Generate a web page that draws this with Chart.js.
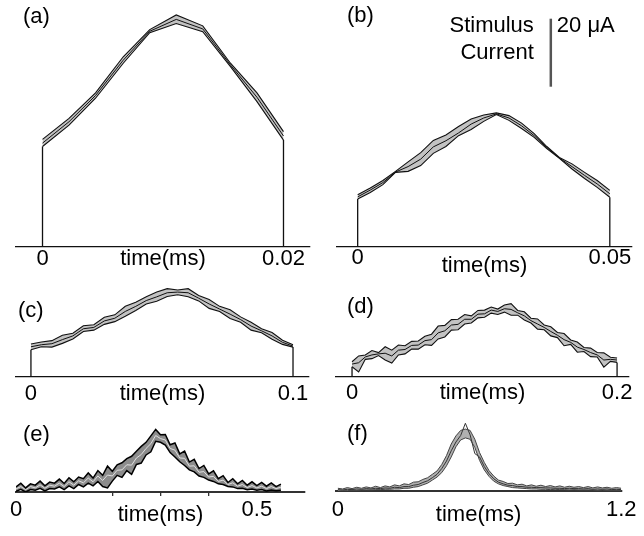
<!DOCTYPE html>
<html><head><meta charset="utf-8">
<script src="https://cdn.jsdelivr.net/npm/chart.js@4/dist/chart.umd.min.js"></script>
<style>
html,body{margin:0;padding:0;background:#fff;}
#wrap{position:relative;width:644px;height:536px;overflow:hidden;background:#fff;}
canvas{position:absolute;left:0;top:0;}
</style></head><body>
<div id="wrap">
<canvas id="ca" width="644" height="536"></canvas>
<canvas id="cb" width="644" height="536"></canvas>
<canvas id="cc" width="644" height="536"></canvas>
<canvas id="cd" width="644" height="536"></canvas>
<canvas id="ce" width="644" height="536"></canvas>
<canvas id="cf" width="644" height="536"></canvas>
</div>
<script>
// ---------- DATA (stimulus current, µA, vs time, ms) ----------
const axisTitle = 'time(ms)';
const panelLabels = ['(a)', '(b)', '(c)', '(d)', '(e)', '(f)'];

// (a) 0.02 ms pulse
const tA = [0,0.0022,0.0044,0.0067,0.0089,0.0111,0.0133,0.0156,0.0178,0.02];
const upperA = [31.5,37.7,45.2,55.8,63.8,68.1,64.9,53.9,45.2,33.8];
const meanA  = [30.4,36.7,44.4,54.8,63.3,66.8,64.0,53.4,43.9,32.5];
const lowerA = [29.4,35.7,43.6,53.9,62.9,65.6,63.2,52.9,42.6,31.3];
const xTicksA = [0, 0.02];
const xTickLabelsA = ['0', '0.02'];

// (b) 0.05 ms pulse
const tB = [0,0.0025,0.005,0.0075,0.01,0.0125,0.015,0.0175,0.02,0.0225,0.025,0.0275,0.03,0.0325,0.035,0.0375,0.04,0.0425,0.045,0.0475,0.05];
const upperB = [15.2,17.2,19.4,22.1,24.9,27.6,31.2,32.8,35.3,37.5,38.7,39.3,38.5,36.3,33.2,29.4,26.2,24.3,21.8,19.4,16.5];
const meanB  = [14.6,16.6,18.8,21.9,23.5,25.7,29.3,31.1,33.4,36.0,37.8,39.0,37.8,35.5,32.6,29.1,26.0,23.5,20.9,18.4,15.5];
const lowerB = [14.0,15.9,18.2,21.8,22.1,23.8,27.4,29.4,32.6,34.4,36.8,38.8,37.1,34.7,32.1,28.8,25.9,22.8,20.0,17.4,14.5];
const xTicksB = [0, 0.05];
const xTickLabelsB = ['0', '0.05'];

// (c) 0.1 ms pulse
const tC = [0,0.004,0.008,0.012,0.016,0.02,0.024,0.028,0.032,0.036,0.04,0.044,0.048,0.052,0.056,0.06,0.064,0.068,0.072,0.076,0.08,0.084,0.088,0.092,0.096,0.1];
const upperC = [9.7,10.3,10.7,12.3,12.9,15.1,15.4,17.6,18.3,20.8,22.0,23.6,25.0,26.0,25.6,26.0,24.0,22.8,20.8,19.8,17.7,16.1,14.2,13.1,10.8,9.5];
const meanC  = [8.9,9.5,9.8,11.0,12.1,14.2,14.6,16.5,17.3,19.3,20.8,22.5,23.6,24.8,25.0,24.8,23.2,21.5,20.0,18.5,16.9,15.0,13.6,12.1,10.2,9.1];
const lowerC = [8.0,8.9,8.8,9.9,11.2,13.4,13.8,15.5,16.3,17.9,19.6,21.5,22.3,23.7,24.2,23.6,22.4,20.2,19.3,17.2,16.1,13.8,13.0,11.1,9.6,8.8];
const xTicksC = [0, 0.1];
const xTickLabelsC = ['0', '0.1'];

// (d) 0.2 ms pulse
const tD = [0,0.005,0.01,0.015,0.02,0.025,0.03,0.035,0.04,0.045,0.05,0.055,0.06,0.065,0.07,0.075,0.08,0.085,0.09,0.095,0.1,0.105,0.11,0.115,0.12,0.125,0.13,0.135,0.14,0.145,0.15,0.155,0.16,0.165,0.17,0.175,0.18,0.185,0.19,0.195,0.2];
const upperD = [4.5,6.2,6.5,7.8,7.2,8.9,7.9,9.4,9.2,10.5,10.6,12.0,12.6,15.0,15.2,16.9,17.0,18.4,18.0,19.6,19.7,20.6,20.0,21.2,21.6,19.6,19.2,17.3,17.1,15.3,14.8,13.1,12.8,10.9,10.3,8.7,8.5,7.2,7.1,5.8,5.6];
const meanD  = [3.8,4.2,5.9,6.5,6.8,7.0,6.2,7.9,8.1,9.3,9.4,10.7,11.0,13.0,13.6,15.3,15.5,17.0,17.0,18.5,18.6,19.7,19.3,20.1,19.9,18.9,18.0,16.6,15.6,14.6,13.4,12.3,11.0,10.2,8.8,8.1,7.2,6.5,5.0,5.2,5.0];
const lowerD = [3.0,1.5,5.2,5.4,6.3,5.0,4.1,6.5,6.8,8.2,8.2,9.5,9.3,11.2,11.8,13.8,13.9,15.6,15.9,17.4,17.6,18.8,18.4,19.1,18.2,18.2,16.8,15.9,14.1,13.9,12.1,11.6,9.2,9.6,7.3,7.5,6.0,5.9,2.9,4.6,4.3];
const xTicksD = [0, 0.2];
const xTickLabelsD = ['0', '0.2'];

// (e) 0.5 ms scale
const tE = [0,0.01,0.02,0.03,0.04,0.05,0.06,0.07,0.08,0.09,0.1,0.11,0.12,0.13,0.14,0.15,0.16,0.17,0.18,0.19,0.2,0.21,0.22,0.23,0.24,0.25,0.26,0.27,0.28,0.29,0.3,0.31,0.32,0.33,0.34,0.35,0.36,0.37,0.38,0.39,0.4,0.41,0.42,0.43,0.44,0.45,0.46,0.47,0.48,0.49,0.5,0.51,0.52,0.53,0.54,0.55];
const upperE = [1.5,2.6,1.2,2.4,2.0,3.2,1.8,2.9,2.6,3.8, 2.5,4.2,3.0,4.4,3.9,5.6,4.1,6.3,4.9,7.6, 6.1,8.0,8.6,9.8,10.5,12.0,13.4,14.6,16.5,18.4, 16.8,16.9,13.9,14.4,11.2,12.0,8.8,9.6,6.9,7.8, 5.3,6.2,3.9,4.8,2.8,3.9,2.4,3.4,2.0,3.0, 1.9,2.8,1.7,2.7,1.6,2.3];
const meanE  = [0.9,1.6,0.7,1.6,1.2,2.1,1.1,2.0,1.7,2.6, 1.6,3.0,2.0,3.3,2.7,4.1,3.0,4.7,3.4,5.0, 4.7,6.4,6.5,8.0,7.9,10.0,11.0,12.8,14.2,16.6, 15.7,15.3,12.8,12.3,10.0,9.9,7.6,7.7,5.8,6.0, 4.4,4.6,3.1,3.5,2.2,2.7,1.7,2.2,1.3,1.9, 1.2,1.7,1.0,1.6,1.0,1.4];
const lowerE = [0.2,0.8,0.0,0.7,0.5,1.1,0.3,1.0,0.9,1.5, 0.7,1.8,1.0,2.2,1.5,2.6,1.8,3.1,1.6,1.2, 3.2,4.9,4.3,6.3,5.2,8.1,8.5,10.9,11.8,14.9, 14.6,13.8,11.6,10.3,8.9,7.8,6.5,5.9,4.7,4.3, 3.5,3.1,2.4,2.2,1.6,1.5,1.0,1.1,0.7,0.9, 0.5,0.7,0.3,0.6,0.4,0.5];
const xTicksE = [0, 0.2, 0.3, 0.4, 0.5];
const xTickLabelsE = ['0', '', '', '', '0.5'];

// (f) 1.2 ms scale
const tF = [0,0.02,0.04,0.06,0.08,0.1,0.12,0.14,0.16,0.18,0.2,0.22,0.24,0.26,0.28,0.3,0.32,0.34,0.36,0.38,0.4,0.42,0.44,0.46,0.48,0.5,0.52,0.54,0.56,0.58,0.6,0.62,0.64,0.66,0.68,0.7,0.72,0.74,0.76,0.78,0.8,0.82,0.84,0.86,0.88,0.9,0.92,0.94,0.96,0.98,1.0,1.02,1.04,1.06,1.08,1.1,1.12,1.14,1.16,1.18,1.2];
const upperF = [0.8,0.6,1.0,0.7,1.1,0.8,1.2,0.9,1.4,1.0, 1.5,1.2,1.8,1.5,2.1,1.9,2.6,2.7,3.4,3.9, 4.9,5.9,7.8,10.4,13.8,16.2,17.8,18.2,17.8,15.2, 11.3,8.4,6.0,4.4,3.2,2.8,2.2,2.3,1.8,2.0, 1.5,1.8,1.4,1.7,1.3,1.6,1.2,1.5,1.1,1.4, 1.1,1.3,1.0,1.3,0.9,1.2,0.9,1.1,0.8,1.0,0.8];
const meanF  = [0.4,0.3,0.5,0.4,0.6,0.5,0.7,0.6,0.8,0.7, 0.9,0.8,1.1,1.0,1.3,1.3,1.7,1.9,2.5,3.0, 3.9,4.9,6.6,8.8,11.8,14.4,16.3,19.9,16.5,11.0, 10.0,7.2,5.1,3.6,2.6,2.1,1.7,1.6,1.3,1.3, 1.1,1.1,1.0,1.0,0.9,0.9,0.8,0.8,0.7,0.8, 0.7,0.7,0.6,0.7,0.5,0.6,0.5,0.6,0.4,0.5,0.4];
const lowerF = [0.0,0.1,0.1,0.2,0.2,0.3,0.3,0.3,0.4,0.4, 0.5,0.5,0.6,0.6,0.8,0.8,1.1,1.3,1.8,2.3, 3.2,4.1,5.4,7.4,10.0,13.0,15.0,15.6,15.2,12.8, 9.0,6.2,4.3,2.9,2.1,1.6,1.3,1.0,0.9,0.8, 0.7,0.6,0.6,0.5,0.5,0.4,0.5,0.4,0.4,0.3, 0.4,0.3,0.3,0.3,0.3,0.2,0.3,0.2,0.2,0.2,0.2];
const xTicksF = [0, 1.2];
const xTickLabelsF = ['0', '1.2'];

// scale bar (drawn in panel b)
const scaleBarSize = 20;          // µA
const scaleBarBase = 47;          // µA (bottom of bar in panel-b units)
const scaleBarTime = 0.0383;      // ms (horizontal position in panel-b units)
const scaleBarLabel = '20 \u03BCA';
const scaleBarCaption = ['Stimulus', 'Current'];

// ---------- RENDERING ----------
const FONT = '"Liberation Sans", Arial, Helvetica, sans-serif';
Chart.defaults.font.family = FONT;
Chart.defaults.color = '#000';

const pts = (t, v) => t.map((x, i) => ({x: x, y: v[i]}));

const textPlugin = {
  id: 'texts',
  afterDraw(chart, args, opts) {
    const ctx = chart.ctx;
    ctx.save();
    ctx.font = '22px ' + FONT;
    ctx.fillStyle = '#000';
    ctx.textBaseline = 'middle';
    ctx.textAlign = 'left';
    if (opts.label) ctx.fillText(opts.label, opts.lx, opts.ly);
    if (opts.bar) {
      const bx = chart.scales.x.getPixelForValue(scaleBarTime);
      const by = chart.scales.y.getPixelForValue(scaleBarBase + scaleBarSize);
      ctx.textAlign = 'right';
      ctx.fillText(scaleBarCaption[0], bx - 17, by + 7);
      ctx.fillText(scaleBarCaption[1], bx - 17, by + 34);
      ctx.textAlign = 'left';
      ctx.fillText(scaleBarLabel, bx + 6, by + 7);
    }
    ctx.restore();
  }
};

const panels = [
  {id:'ca', label:panelLabels[0], lx:23, ly:17, t:tA, up:upperA, mid:meanA, lo:lowerA, xMin:-0.0022, xMax:0.0222, yMax:72.5,
   pad:{left:16,right:334,top:0,bottom:249.5}, ticks:xTicksA, tl:xTickLabelsA, tickPad:1, titlePad:17, edges:true},
  {id:'cb', label:panelLabels[1], lx:347, ly:16, t:tB, up:upperB, mid:meanB, lo:lowerB, xMin:-0.0041, xMax:0.0544, yMax:72.5,
   pad:{left:337,right:12,top:0,bottom:249.5}, ticks:xTicksB, tl:xTickLabelsB, tickPad:0, titlePad:9.5, edges:true, bar:true},
  {id:'cc', label:panelLabels[2], lx:18, ly:311, t:tC, up:upperC, mid:meanC, lo:lowerC, xMin:-0.0057, xMax:0.1061, yMax:31.5,
   pad:{left:16,right:335,top:270,bottom:119}, ticks:xTicksC, tl:xTickLabelsC, tickPad:6, titlePad:12, edges:true},
  {id:'cd', label:panelLabels[3], lx:347, ly:307, t:tD, up:upperD, mid:meanD, lo:lowerD, xMin:-0.0121, xMax:0.209, yMax:31.5,
   pad:{left:336,right:15,top:270,bottom:119}, ticks:xTicksD, tl:xTickLabelsD, tickPad:4.5, titlePad:13.5, edges:true},
  {id:'ce', label:panelLabels[4], lx:23, ly:435, t:tE, up:upperE, mid:meanE, lo:lowerE, xMin:0, xMax:0.6, yMax:24.1,
   pad:{left:16,right:339,top:410,bottom:4}, ticks:xTicksE, tl:xTickLabelsE, tickPad:3, titlePad:6, edges:false, marks:[0.2,0.3,0.4],
   edgeColor:'#000', edgeWidth:1.5, fillColor:'#8c8c8c', midColor:'#e0e0e0', axisColor:'#333', axisWidth:2},
  {id:'cf', label:panelLabels[5], lx:347, ly:434, t:tF, up:upperF, mid:meanF, lo:lowerF, xMin:-0.008, xMax:1.2, yMax:23.8,
   pad:{left:336,right:17,top:410,bottom:5}, ticks:xTicksF, tl:xTickLabelsF, tickPad:7.5, titlePad:5, edges:false,
   edgeColor:'#444', edgeWidth:1, fillColor:'#b0b0b0', midColor:'#333', axisColor:'#333', axisWidth:2}
];

panels.forEach(p => {
  const edgeColor = p.edgeColor || '#111';
  const edgeWidth = p.edgeWidth || 1.1;
  const datasets = [
    {data: pts(p.t, p.up), borderColor: edgeColor, borderWidth: edgeWidth, fill: false},
    {data: pts(p.t, p.lo), borderColor: edgeColor, borderWidth: edgeWidth, fill: '-1', backgroundColor: p.fillColor || '#c2c2c2'},
    {data: pts(p.t, p.mid), borderColor: p.midColor || '#111', borderWidth: 1, fill: false}
  ];
  if (p.edges) {
    const n = p.t.length - 1;
    datasets.push({data: [{x:p.t[0], y:0}, {x:p.t[0], y:p.lo[0]}], borderColor:'#111', borderWidth:1.3, fill:false});
    datasets.push({data: [{x:p.t[n], y:0}, {x:p.t[n], y:p.lo[n]}], borderColor:'#111', borderWidth:1.3, fill:false});
  }
  if (p.bar) {
    datasets.push({data: [{x:scaleBarTime, y:scaleBarBase}, {x:scaleBarTime, y:scaleBarBase + scaleBarSize}],
      borderColor:'#555', borderWidth:2.5, fill:false, clip:false});
  }
  const marks = p.marks || [];
  new Chart(document.getElementById(p.id), {
    type: 'line',
    data: {datasets},
    plugins: [textPlugin],
    options: {
      responsive: false, animation: false, events: [],
      devicePixelRatio: 1,
      layout: {padding: p.pad},
      elements: {point: {radius: 0}, line: {tension: 0, borderJoinStyle: 'miter'}},
      plugins: {
        legend: {display: false}, tooltip: {enabled: false},
        filler: {propagate: false, drawTime: 'beforeDatasetsDraw'},
        texts: {label: p.label, lx: p.lx, ly: p.ly, bar: !!p.bar}
      },
      scales: {
        x: {
          type: 'linear', min: p.xMin, max: p.xMax,
          afterBuildTicks: s => { s.ticks = p.ticks.map(v => ({value: v})); },
          afterFit: s => { s.height = 40; },
          ticks: {autoSkip: false, maxRotation: 0, padding: p.tickPad, color: '#000',
                  font: {size: 22, lineHeight: 1},
                  callback: (v, i) => p.tl[i]},
          grid: {display: marks.length > 0, drawOnChartArea: false, drawTicks: marks.length > 0, tickLength: 4, lineWidth: 1.3,
                 color: ctx => (ctx.tick && marks.includes(ctx.tick.value)) ? '#333' : 'rgba(0,0,0,0)'},
          border: {display: true, color: p.axisColor || '#111', width: p.axisWidth || 1.3},
          title: {display: true, text: axisTitle, color: '#000', font: {size: 22, lineHeight: 1},
                  padding: {top: 0, bottom: p.titlePad}}
        },
        y: {type: 'linear', display: false, min: 0, max: p.yMax}
      }
    }
  });
});
</script>
</body></html>
